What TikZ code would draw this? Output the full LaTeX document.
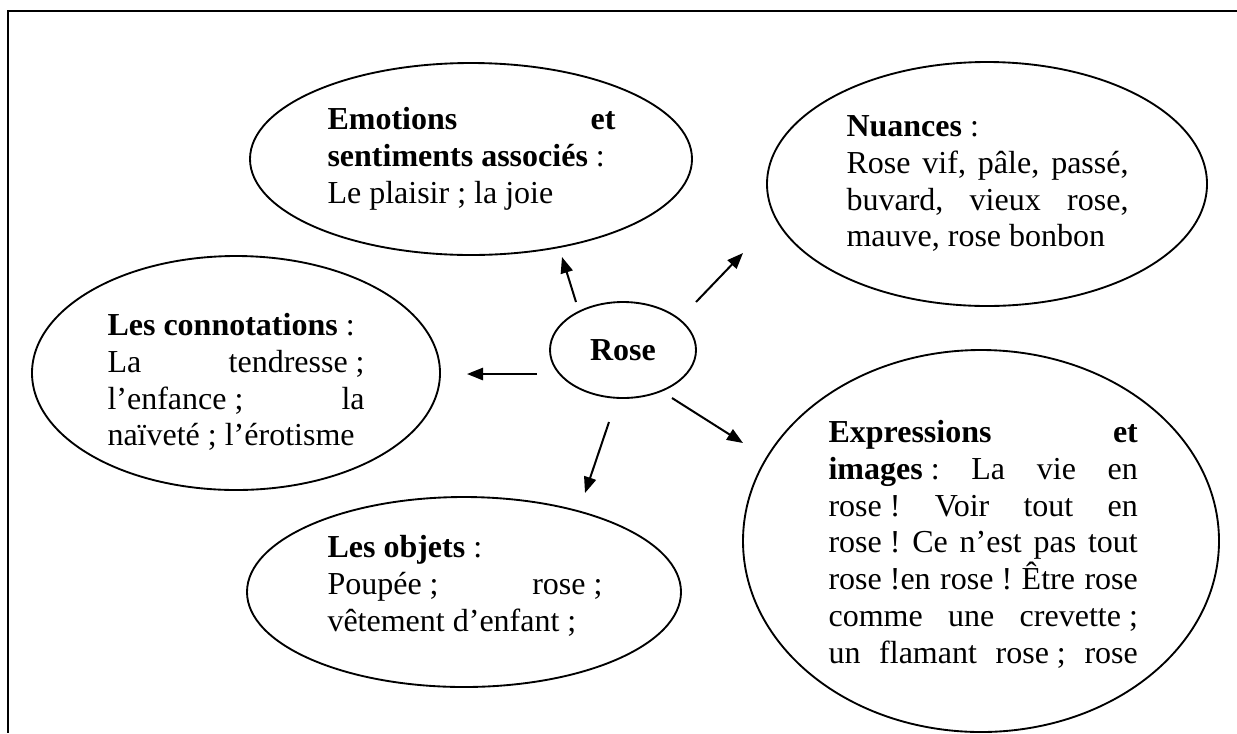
\documentclass[tikz,border=0pt]{standalone}
\usepackage{fontspec}
\setmainfont{Liberation Serif}
\usetikzlibrary{arrows.meta,shapes.geometric}
\newcommand\nbs{\kern.25em\relax}
\frenchspacing
\begin{document}
\begin{tikzpicture}[x=0.375pt,y=-0.375pt,
  bubble/.style={draw, ellipse, line width=0.7pt, inner sep=0pt},
  txt/.style={anchor=north west, inner sep=0pt, align=left, font=\fontsize{12pt}{13.8pt}\selectfont\frenchspacing},
  arr/.style={line width=0.75pt, -{Triangle[length=6pt,width=4.6pt]}},
  frameline/.style={line width=1.1pt}]
\useasboundingbox (0,0) rectangle (1237,733);
\draw[frameline] (1237,11) -- (8,11) -- (8,733);

% ellipses
\node[bubble, minimum width=165.75pt, minimum height=72pt] (emo) at (471,159) {};
\node[bubble, minimum width=165pt, minimum height=91.5pt] (nua) at (987,184) {};
\node[bubble, minimum width=153pt, minimum height=87.75pt] (con) at (236,373) {};
\node[bubble, minimum width=162.75pt, minimum height=71.25pt] (obj) at (464,592) {};
\node[bubble, minimum width=178.5pt, minimum height=143.25pt] (exp) at (981,541) {};
\node[bubble, minimum width=54.75pt, minimum height=36pt, font=\fontsize{12pt}{13.8pt}\selectfont\bfseries] (rose) at (623,350) {Rose};

% texts
\node[txt] (emotxt) at (327,102.3) {\rule{0pt}{10pt}\makebox[108pt][s]{\textbf{Emotions} \textbf{et}}\\
\textbf{sentiments associés}\nbs:\\
Le plaisir\nbs; la joie};

\node[txt] (nuatxt) at (846,109.3) {\rule{0pt}{10pt}\textbf{Nuances}\nbs:\\
\makebox[105.75pt][s]{Rose vif, pâle, passé,}\\
\makebox[105.75pt][s]{buvard, vieux rose,}\\
mauve, rose bonbon};

\node[txt] (contxt) at (107,308.3) {\rule{0pt}{10pt}\textbf{Les connotations}\nbs:\\
\makebox[96.4pt][s]{La tendresse\nbs;}\\
\makebox[96.4pt][s]{l’enfance\nbs; la}\\
naïveté\nbs; l’érotisme};

\node[txt] (objtxt) at (327,530.3) {\rule{0pt}{10pt}\textbf{Les objets}\nbs:\\
\makebox[103.1pt][s]{Poupée\nbs; rose\nbs;}\\
vêtement d’enfant\nbs;};

\node[txt] (exptxt) at (828,415.3) {\rule{0pt}{10pt}\makebox[116pt][s]{\textbf{Expressions} \textbf{et}}\\
\makebox[116pt][s]{\textbf{images}\nbs: La vie en}\\
\makebox[116pt][s]{rose\nbs! Voir tout en}\\
\makebox[116pt][s]{rose\nbs! Ce n’est pas tout}\\
\makebox[116pt][s]{rose\nbs!en rose\nbs! Être rose}\\
\makebox[116pt][s]{comme une crevette\nbs;}\\
\makebox[116pt][s]{un flamant rose\nbs; rose}};

% arrows
\coordinate (a1s) at (576,302); \coordinate (a1e) at (562,257);
\coordinate (a2s) at (696,302); \coordinate (a2e) at (743,253);
\coordinate (a3s) at (537,374); \coordinate (a3e) at (467,374);
\coordinate (a4s) at (609,422); \coordinate (a4e) at (585,493);
\coordinate (a5s) at (672,398); \coordinate (a5e) at (743,443);
\draw[arr] (a1s) -- (a1e);
\draw[arr] (a2s) -- (a2e);
\draw[arr] (a3s) -- (a3e);
\draw[arr] (a4s) -- (a4e);
\draw[arr] (a5s) -- (a5e);
\end{tikzpicture}
\end{document}
